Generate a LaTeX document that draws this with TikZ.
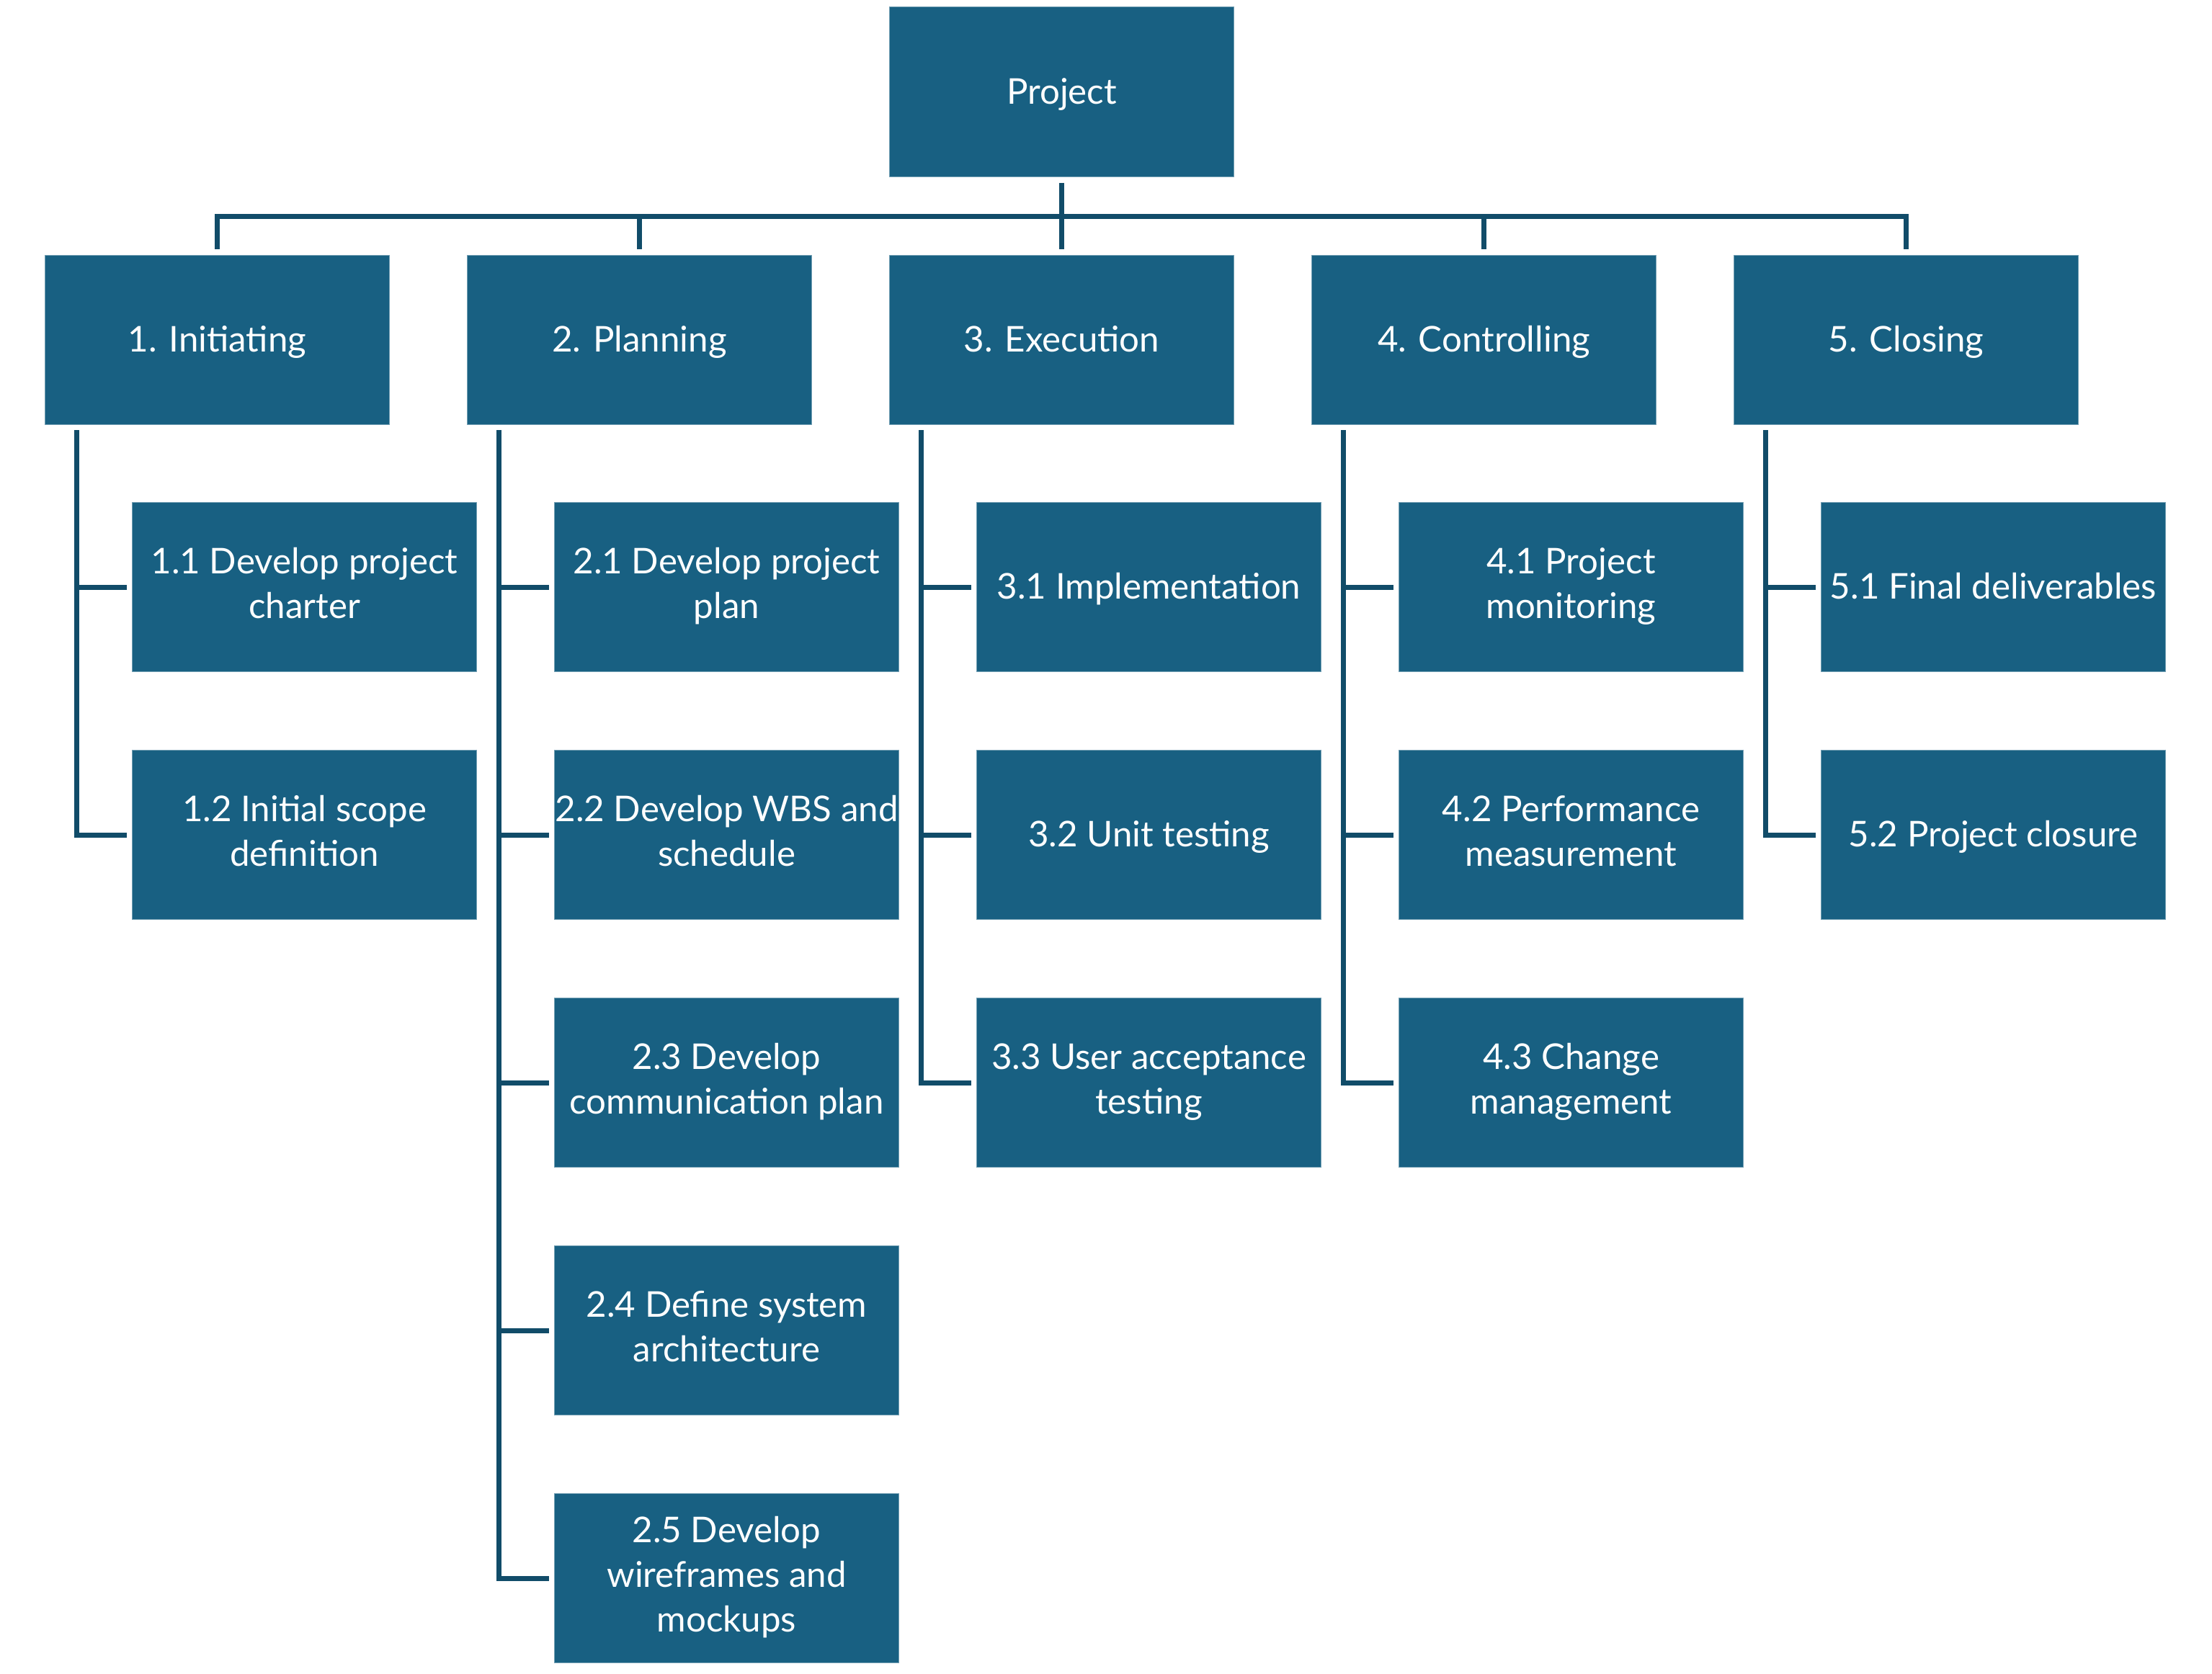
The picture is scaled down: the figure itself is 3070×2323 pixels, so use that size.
\documentclass[tikz,border=0pt]{standalone}
\usepackage{fontspec}
\setmainfont{Lato}
\usepackage{xcolor}
\usepackage{tikz}

\definecolor{boxblue}{HTML}{186082}
\definecolor{linkblue}{HTML}{114C69}
\newcommand{\wbsstrut}{\rule[-3.2pt]{0pt}{16pt}}

\begin{document}
\begin{tikzpicture}[x=0.01cm,y=-0.01cm,
    wbs/.style={fill=boxblue,draw=boxblue!60!white,line width=0.3pt,text=white,
      minimum width=4.77cm,minimum height=2.35cm,inner sep=0pt,align=center,
      font=\fontsize{14}{17.6}\selectfont,
      execute at begin node=\wbsstrut,execute at end node=\wbsstrut},
    link/.style={draw=linkblue,line width=0.07cm}]
    \useasboundingbox (0,0) rectangle (3070,2323);
    % top
    \node[wbs] (P) at (1473.5,127.5) {Project};
    % phases
    \node[wbs] (1) at (301.5,472) {1. Initiating};
    \node[wbs] (2) at (887.5,472) {2. Planning};
    \node[wbs] (3) at (1473.5,472) {3. Execution};
    \node[wbs] (4) at (2059.5,472) {4. Controlling};
    \node[wbs] (5) at (2645.5,472) {5. Closing};
    % work packages
    \node[wbs] (11) at (422.5,815) {1.1 Develop project\\charter};
    \node[wbs] (12) at (422.5,1159) {1.2 Initial scope\\definition};
    \node[wbs] (21) at (1008.5,815) {2.1 Develop project\\plan};
    \node[wbs] (22) at (1008.5,1159) {2.2 Develop WBS and\\schedule};
    \node[wbs] (23) at (1008.5,1503) {2.3 Develop\\communication plan};
    \node[wbs] (24) at (1008.5,1847) {2.4 Define system\\architecture};
    \node[wbs] (25) at (1008.5,2191) {2.5 Develop\\wireframes and\\mockups};
    \node[wbs] (31) at (1594.5,815) {3.1 Implementation};
    \node[wbs] (32) at (1594.5,1159) {3.2 Unit testing};
    \node[wbs] (33) at (1594.5,1503) {3.3 User acceptance\\testing};
    \node[wbs] (41) at (2180.5,815) {4.1 Project\\monitoring};
    \node[wbs] (42) at (2180.5,1159) {4.2 Performance\\measurement};
    \node[wbs] (43) at (2180.5,1503) {4.3 Change\\management};
    \node[wbs] (51) at (2766.5,815) {5.1 Final deliverables};
    \node[wbs] (52) at (2766.5,1159) {5.2 Project closure};
    % project to phases
    \coordinate (bar) at ([yshift=-0.55cm]P.south);
    \draw[link] ([yshift=-0.08cm]P.south) -- ([yshift=0.08cm]3.north);
    \draw[link] ([yshift=0.08cm]1.north) |- (bar) -| ([yshift=0.08cm]5.north);
    \draw[link] (2.north |- bar) -- ([yshift=0.08cm]2.north);
    \draw[link] (4.north |- bar) -- ([yshift=0.08cm]4.north);
    % phases to work packages
    \coordinate (s1) at ([xshift=0.445cm,yshift=-0.07cm]1.south west);
    \draw[link] (s1) |- ([xshift=-0.07cm]12.west);
    \draw[link] (s1 |- 11.west) -- ([xshift=-0.07cm]11.west);
    \coordinate (s2) at ([xshift=0.445cm,yshift=-0.07cm]2.south west);
    \draw[link] (s2) |- ([xshift=-0.07cm]25.west);
    \draw[link] (s2 |- 21.west) -- ([xshift=-0.07cm]21.west);
    \draw[link] (s2 |- 22.west) -- ([xshift=-0.07cm]22.west);
    \draw[link] (s2 |- 23.west) -- ([xshift=-0.07cm]23.west);
    \draw[link] (s2 |- 24.west) -- ([xshift=-0.07cm]24.west);
    \coordinate (s3) at ([xshift=0.445cm,yshift=-0.07cm]3.south west);
    \draw[link] (s3) |- ([xshift=-0.07cm]33.west);
    \draw[link] (s3 |- 31.west) -- ([xshift=-0.07cm]31.west);
    \draw[link] (s3 |- 32.west) -- ([xshift=-0.07cm]32.west);
    \coordinate (s4) at ([xshift=0.445cm,yshift=-0.07cm]4.south west);
    \draw[link] (s4) |- ([xshift=-0.07cm]43.west);
    \draw[link] (s4 |- 41.west) -- ([xshift=-0.07cm]41.west);
    \draw[link] (s4 |- 42.west) -- ([xshift=-0.07cm]42.west);
    \coordinate (s5) at ([xshift=0.445cm,yshift=-0.07cm]5.south west);
    \draw[link] (s5) |- ([xshift=-0.07cm]52.west);
    \draw[link] (s5 |- 51.west) -- ([xshift=-0.07cm]51.west);
\end{tikzpicture}
\end{document}
